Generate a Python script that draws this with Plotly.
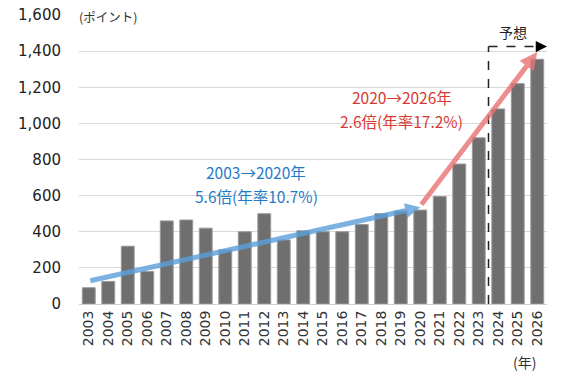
import plotly.graph_objects as go

years = [str(y) for y in range(2003, 2027)]
values = [90, 125, 320, 180, 460, 465, 420, 300, 400, 500, 355, 405,
          400, 400, 440, 500, 515, 520, 595, 775, 920, 1080, 1220, 1355]
y_ticks = [0, 200, 400, 600, 800, 1000, 1200, 1400, 1600]
y_tick_labels = ["0", "200", "400", "600", "800", "1,000", "1,200", "1,400", "1,600"]

# trend arrows: (start category, start value, end category, end value)
blue_trend = ("2003", 127, "2020", 535)
red_trend = ("2020", 543, "2026", 1395)
blue_text = ["2003→2020年", "5.6倍(年率10.7%)"]
red_text = ["2020→2026年", "2.6倍(年率17.2%)"]
forecast_label = "予想"
forecast_top = 1425
forecast_start = "2023"

NUM = "DejaVu Sans"
JP = "Noto Sans CJK JP"

idx = {y: i for i, y in enumerate(years)}

fig = go.Figure()
fig.add_trace(go.Bar(
    x=list(range(len(years))), y=values,
    marker=dict(color="#6f6f6f", line=dict(color="#9a9a9a", width=1)),
    width=0.66, showlegend=False, hoverinfo="skip"))

# forecast dashed box
fx = idx[forecast_start] + 0.5
right = len(years) - 0.5
fig.add_shape(type="line", x0=fx, x1=fx, y0=0, y1=forecast_top,
              line=dict(color="#222222", width=1.5, dash="dash"), layer="above")
fig.add_shape(type="line", x0=fx, x1=right - 0.35, y0=forecast_top, y1=forecast_top,
              line=dict(color="#222222", width=1.5, dash="dash"), layer="above")
fig.add_annotation(x=right, y=forecast_top, ax=right - 0.35, ay=forecast_top,
                   xref="x", yref="y", axref="x", ayref="y", text="",
                   showarrow=True, arrowhead=2, arrowsize=1.5, arrowwidth=1.5,
                   arrowcolor="#000000", standoff=0)
fig.add_annotation(x=fx + (right - fx) * 0.42, y=forecast_top, yshift=15, text=forecast_label,
                   showarrow=False, font=dict(family=JP, size=14, color="#222222"))

# trend arrows
for (s, sv, e, ev), col, hs in [(blue_trend, "rgba(91,160,220,0.8)", 0.6),
                                (red_trend, "rgba(232,115,115,0.8)", 0.7)]:
    fig.add_annotation(x=idx[e], y=ev, ax=idx[s], ay=sv,
                       xref="x", yref="y", axref="x", ayref="y", text="",
                       showarrow=True, arrowhead=2, arrowsize=hs, arrowwidth=5,
                       arrowcolor=col, standoff=0)

fig.add_annotation(x=8.6, y=731, text=blue_text[0], showarrow=False,
                   font=dict(family=JP, size=15.5, color="#1f7bc8"))
fig.add_annotation(x=8.6, y=596, text=blue_text[1], showarrow=False,
                   font=dict(family=JP, size=15.5, color="#1f7bc8"))
fig.add_annotation(x=16.05, y=1146, text=red_text[0], showarrow=False,
                   font=dict(family=JP, size=15.5, color="#d63a34"))
fig.add_annotation(x=16.05, y=1013, text=red_text[1], showarrow=False,
                   font=dict(family=JP, size=15.5, color="#d63a34"))

fig.add_annotation(x=0, y=1600, xref="paper", yref="y", xanchor="left", yanchor="middle",
                   xshift=-2, yshift=-1, text="(ポイント)", showarrow=False,
                   font=dict(family=JP, size=12.5, color="#333333"))
fig.add_annotation(x=22.37, y=0, xref="x", yref="y", yshift=-58, text="(年)",
                   showarrow=False, font=dict(family=JP, size=14, color="#333333"))

fig.update_layout(
    width=567, height=378,
    margin=dict(l=79, r=20, t=15, b=74),
    paper_bgcolor="white", plot_bgcolor="white",
    xaxis=dict(range=[-0.5, len(years) - 0.5], tickvals=list(range(len(years))),
               ticktext=years, tickangle=-90, showgrid=False, ticks="",
               showline=True, linecolor="#d0d0d0", linewidth=1, automargin=False,
               tickfont=dict(family=NUM, size=14, color="#333333")),
    yaxis=dict(range=[0, 1600], tickvals=y_ticks, ticktext=y_tick_labels,
               showgrid=True, gridcolor="#d9d9d9", gridwidth=1, zeroline=False,
               ticks="", ticklabelstandoff=17, automargin=False,
               tickfont=dict(family=NUM, size=15, color="#222222")),
)

fig.write_html("out.html", config={"displayModeBar": False},
               post_script="document.body.style.margin='0';")
